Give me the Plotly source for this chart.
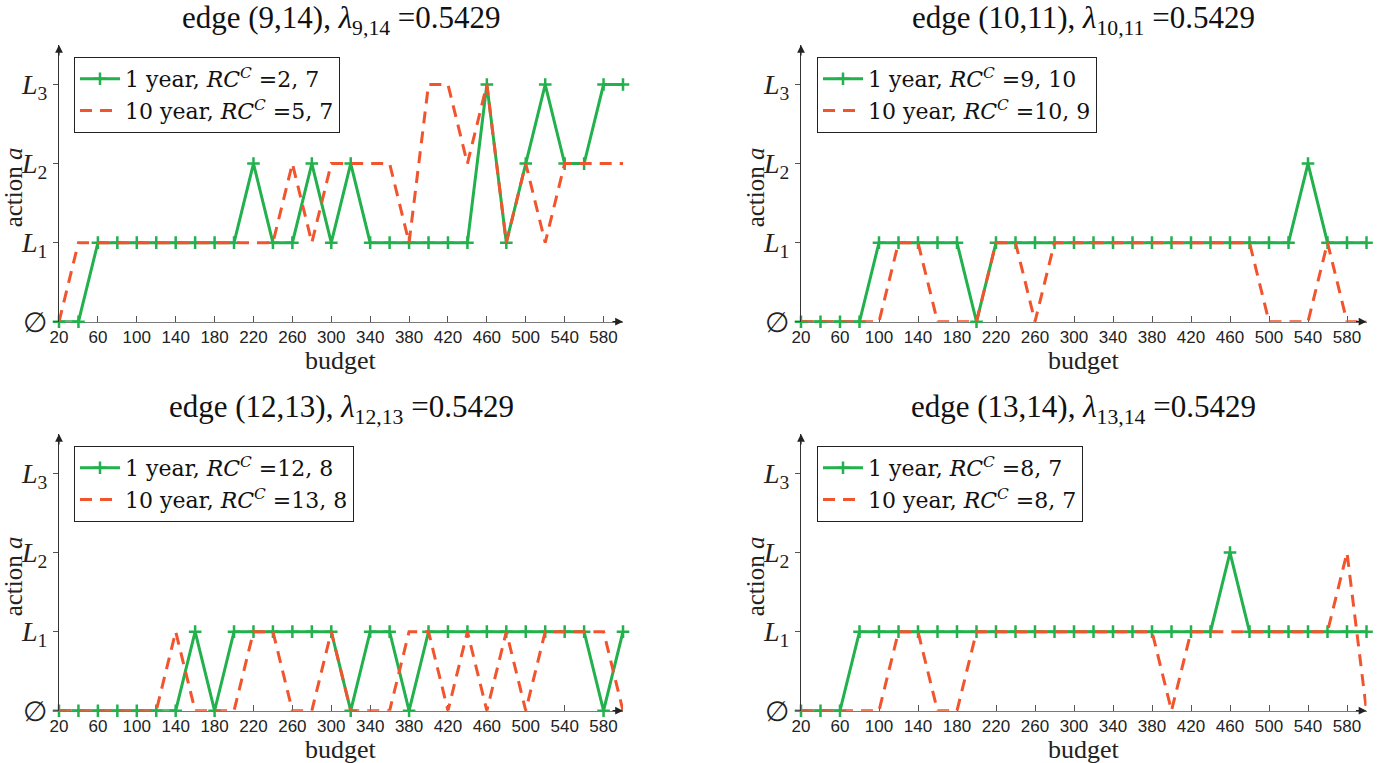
import plotly.graph_objects as go

budget = list(range(20, 601, 20))

# edge (9,14)
e914_1yr = [0,0,1,1,1,1,1,1,1,1,2,1,1,2,1,2,1,1,1,1,1,1,3,1,2,3,2,2,3,3]
e914_10yr = [0,1,1,1,1,1,1,1,1,1,1,1,2,1,2,2,2,2,1,3,3,2,3,1,2,1,2,2,2,2]
# edge (10,11)
e1011_1yr = [0,0,0,0,1,1,1,1,1,0] + [1]*16 + [2,1,1,1]
e1011_10yr = [0]*5 + [1,1] + [0,0,0] + [1,1] + [0] + [1]*11 + [0,0,0] + [1] + [0,0]
# edge (12,13)
e1213_1yr = [0]*7 + [1] + [0] + [1]*6 + [0] + [1,1] + [0] + [1]*9 + [0] + [1]
e1213_10yr = [0]*6 + [1] + [0,0,0] + [1,1] + [0,0] + [1] + [0,0,0] + [1,1] + [0] + [1] + [0] + [1] + [0] + [1,1,1,1] + [0]
# edge (13,14)
e1314_1yr = [0]*3 + [1]*19 + [2] + [1]*7
e1314_10yr = [0]*5 + [1,1] + [0,0] + [1]*10 + [0] + [1]*8 + [2] + [0]

titles = [
    "edge (9,14), <i>λ</i><sub>9,14</sub> =0.5429",
    "edge (10,11), <i>λ</i><sub>10,11</sub> =0.5429",
    "edge (12,13), <i>λ</i><sub>12,13</sub> =0.5429",
    "edge (13,14), <i>λ</i><sub>13,14</sub> =0.5429",
]
rc_1yr = ["2, 7", "9, 10", "12, 8", "8, 7"]
rc_10yr = ["5, 7", "10, 9", "13, 8", "8, 7"]
series_1yr = [e914_1yr, e1011_1yr, e1213_1yr, e1314_1yr]
series_10yr = [e914_10yr, e1011_10yr, e1213_10yr, e1314_10yr]

x_ticks = list(range(20, 581, 40))
y_vals = [0, 1, 2, 3]
y_text = ["∅", "<i>L</i><sub>1</sub>", "<i>L</i><sub>2</sub>", "<i>L</i><sub>3</sub>"]

GREEN = "#22b14c"
RED = "#f2542d"
SERIF = "Liberation Serif"
LEGSERIF = "DejaVu Serif"
SANS = "Liberation Sans"

W, H = 1391, 763
# pixel frames: (left, right, top, bottom)
frames = [
    (59, 623, 45, 321.7),
    (801, 1366.5, 45, 321.7),
    (59, 623, 434, 710.7),
    (801, 1366.5, 434, 710.7),
]
legend_pos = [(74, 57), (817, 57), (74, 446), (817, 446)]
title_y = [20, 20, 409, 409]
ytitle_x = [13, 755, 13, 755]

fig = go.Figure()
layout = dict(
    width=W, height=H, margin=dict(l=0, r=0, t=0, b=0),
    paper_bgcolor="white", plot_bgcolor="white", showlegend=True,
)
annotations = []
for i in range(4):
    n = "" if i == 0 else str(i + 1)
    xa, ya = "x" + n, "y" + n
    lg = "legend" + n
    l, r, t, b = frames[i]
    fig.add_trace(go.Scatter(
        x=budget, y=series_1yr[i], xaxis=xa, yaxis=ya, legend=lg,
        mode="lines+markers", name=f"1 year, <i>RC</i><sup><i>C</i></sup> ={rc_1yr[i]}",
        line=dict(color=GREEN, width=3),
        marker=dict(symbol="cross-thin", size=9, line=dict(color=GREEN, width=2.5)),
        cliponaxis=False,
    ))
    fig.add_trace(go.Scatter(
        x=budget, y=series_10yr[i], xaxis=xa, yaxis=ya, legend=lg,
        mode="lines", name=f"10 year, <i>RC</i><sup><i>C</i></sup> ={rc_10yr[i]}",
        line=dict(color=RED, width=3, dash="12px,8px"),
        cliponaxis=False,
    ))
    layout["xaxis" + n] = dict(
        domain=[l / W, r / W], anchor=ya, range=[20, 600], automargin=False,
        tickvals=x_ticks, ticks="inside", ticklen=6, tickcolor="#555",
        showline=True, linecolor="#7a7a7a", linewidth=1.2, showgrid=False, zeroline=False,
        tickfont=dict(family=SANS, size=17, color="#222"),
        layer="below traces", fixedrange=True,
    )
    layout["yaxis" + n] = dict(
        domain=[1 - b / H, 1 - t / H], anchor=xa, range=[0, 3.5], automargin=False,
        tickvals=y_vals, ticktext=y_text, ticks="outside", ticklen=5, tickcolor="#555",
        showline=True, linecolor="#333", linewidth=1.2, showgrid=False, zeroline=False,
        tickfont=dict(family=SERIF, size=28, color="#222"),
        fixedrange=True,
    )
    lx, ly = legend_pos[i]
    layout[lg] = dict(
        x=lx / W, y=1 - ly / H, xanchor="left", yanchor="top",
        bordercolor="#222", borderwidth=1, bgcolor="white",
        font=dict(family=LEGSERIF, size=22, color="#111"), tracegroupgap=0,
        itemwidth=40,
    )
    annotations.append(dict(
        text=titles[i], xref="paper", yref="paper",
        x=(l + r) / 2 / W, y=1 - title_y[i] / H,
        xanchor="center", yanchor="middle", showarrow=False,
        font=dict(family=SERIF, size=31, color="#111"),
    ))
    annotations.append(dict(
        text="action <i>a</i>", xref="paper", yref="paper",
        x=ytitle_x[i] / W, y=1 - ((t + b) / 2 + 4) / H, textangle=-90,
        xanchor="center", yanchor="middle", showarrow=False,
        font=dict(family=SERIF, size=25, color="#222"),
    ))
    annotations.append(dict(
        text="budget", xref="paper", yref="paper",
        x=(l + r) / 2 / W, y=1 - (b + 39) / H,
        xanchor="center", yanchor="middle", showarrow=False,
        font=dict(family=SERIF, size=26, color="#222"),
    ))
    # axis arrows
    annotations.append(dict(
        text="", xref=xa + " domain", yref=ya + " domain", x=1.0, y=0.0,
        ax=-12, ay=0, showarrow=True, arrowhead=2, arrowsize=1.3, arrowwidth=1.2,
        arrowcolor="#222",
    ))
    annotations.append(dict(
        text="", xref=xa + " domain", yref=ya + " domain", x=0.0, y=1.0,
        ax=0, ay=12, showarrow=True, arrowhead=2, arrowsize=1.3, arrowwidth=1.2,
        arrowcolor="#222",
    ))
layout["annotations"] = annotations
fig.update_layout(**layout)
fig.write_html("out.html", config={"displayModeBar": False},
               post_script="document.body.style.margin='0px';")
